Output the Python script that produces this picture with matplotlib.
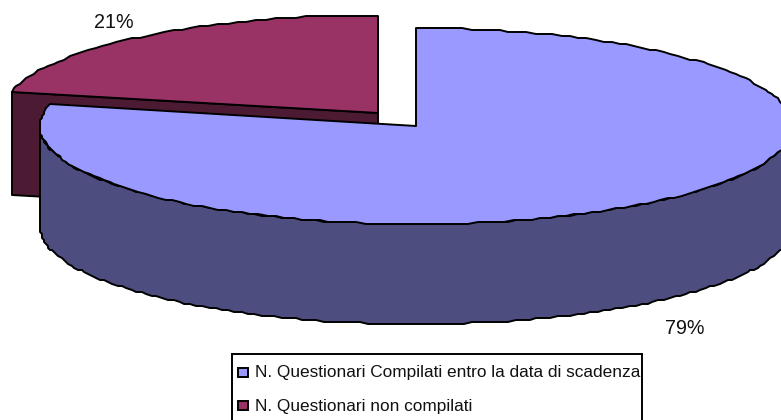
import numpy as np
import matplotlib
matplotlib.use("Agg")
import matplotlib.pyplot as plt
from matplotlib.patches import Polygon, Rectangle

# data
categories = ["N. Questionari Compilati entro la data di scadenza", "N. Questionari non compilati"]
values = [78.6, 21.4]
percent_labels = ["79%", "21%"]
colors = ["#9999FF", "#993366"]
side_colors = ["#4D4D80", "#4D1A33"]

# pie geometry in image pixels
BLUE_CENTER = (416, 126)
RED_CENTER = (378, 113)
RX, RY = 376, 98
DEPTH = 100
LW = 1.4

plt.rcParams['font.family'] = ['Liberation Sans', 'DejaVu Sans']

fig = plt.figure(figsize=(7.81, 4.20), dpi=100)
ax = fig.add_axes([0, 0, 1, 1])
ax.set_xlim(0, 781)
ax.set_ylim(420, 0)
ax.axis("off")


# point on the ellipse, angle in degrees clockwise from 12 o'clock
def rim(center, angles):
    t = np.radians(angles)
    pts = np.column_stack([center[0] + RX * np.sin(t), center[1] - RY * np.cos(t)])
    # stepped outline like the low-res original
    return np.round(pts / 2) * 2


def add_poly(pts, color):
    ax.add_patch(Polygon(pts, closed=True, facecolor=color, edgecolor="black", linewidth=LW, joinstyle="round"))


sweep = 360 * values[0] / sum(values)

# red slice: cut face first, then the top
red_arc = rim(RED_CENTER, np.linspace(sweep, 360, 50))
left_pt = red_arc[0]
add_poly([left_pt, left_pt + [0, DEPTH + 3], [RED_CENTER[0], RED_CENTER[1] + DEPTH + 3], RED_CENTER], side_colors[1])
add_poly(np.vstack([red_arc, [RED_CENTER]]), colors[1])

# blue slice: outer wall, then the top
wall_angles = np.linspace(90, 270, 160)
wall_top = rim(BLUE_CENTER, wall_angles)
add_poly(np.vstack([wall_top, (wall_top + [0, DEPTH])[::-1]]), side_colors[0])
blue_arc = rim(BLUE_CENTER, np.linspace(0, sweep, 200))
add_poly(np.vstack([blue_arc, [BLUE_CENTER]]), colors[0])

ax.text(685, 328, percent_labels[0], fontsize=14.2, color="#111111", ha="center", va="center")
ax.text(114, 22, percent_labels[1], fontsize=14.2, color="#111111", ha="center", va="center")

# legend box runs off the bottom of the image
ax.add_patch(Rectangle((232, 354), 410, 80, facecolor="white", edgecolor="black", linewidth=1.4))
for name, col, y_box, y_text in zip(categories, colors, [372, 405], [373, 407]):
    ax.add_patch(Rectangle((238, y_box - 4.5), 9.5, 9, facecolor=col, edgecolor="black", linewidth=1.4))
    ax.text(255, y_text, name, fontsize=12.4, color="#111111", ha="left", va="center")

fig.savefig("out.png", dpi=100)
